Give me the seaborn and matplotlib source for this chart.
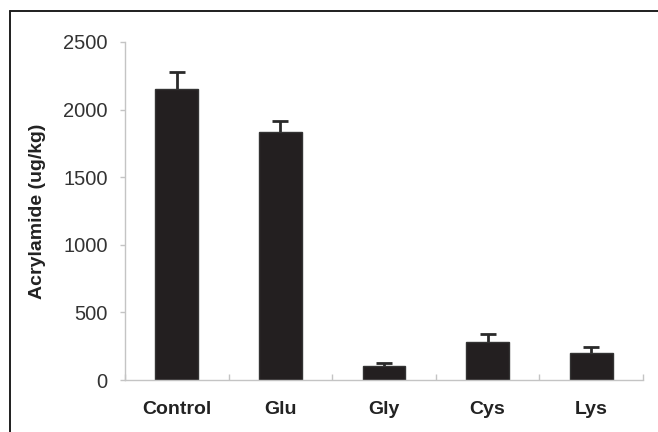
import matplotlib
matplotlib.use("Agg")
import matplotlib.pyplot as plt
from matplotlib.lines import Line2D
import seaborn as sns
import pandas as pd
import numpy as np

# Acrylamide content per treatment (mean and upper error)
categories = ["Control", "Glu", "Gly", "Cys", "Lys"]
acrylamide = [2152, 1837, 106, 279, 202]
errors = [128, 80, 22, 59, 45]
y_ticks = [0, 500, 1000, 1500, 2000, 2500]

sns.set_theme(style="white")
plt.rcParams["font.family"] = ["Liberation Sans", "DejaVu Sans"]

df = pd.DataFrame({"group": categories, "value": acrylamide})

W, H = 658, 432
fig = plt.figure(figsize=(W / 100, H / 100), dpi=100)
fig.patch.set_facecolor("white")
ax = fig.add_axes([125 / W, 1 - 380 / H, (643 - 125) / W, (380 - 42) / H])

sns.barplot(data=df, x="group", y="value", ax=ax, color="#231f20",
            width=0.415, edgecolor="#333333", linewidth=1.0,
            saturation=1, errorbar=None, zorder=2)

# upper-only error bars: stem from bar top plus a cap at the end
x = np.arange(len(categories))
vals = np.asarray(acrylamide, dtype=float)
tops = vals + np.asarray(errors, dtype=float)
cap_half = 0.078
ax.vlines(x, vals, tops, color="#2a2a2a", linewidth=2.0, zorder=1)
ax.hlines(tops, x - cap_half, x + cap_half, color="#2a2a2a",
          linewidth=2.0, zorder=1)

ax.set_xlim(-0.5, len(categories) - 0.5)
ax.set_ylim(0, 2500)
ax.set_yticks(y_ticks)
ax.set_yticklabels([str(t) for t in y_ticks])

# spines: only light gray left/bottom
for side in ["top", "right"]:
    ax.spines[side].set_visible(False)
for side in ["left", "bottom"]:
    ax.spines[side].set_color("#c4c4c4")
    ax.spines[side].set_linewidth(1.0)
    ax.spines[side].set_zorder(3)

ax.tick_params(axis="y", which="major", direction="out", length=3.5,
               width=1.0, color="#c4c4c4", pad=9, labelsize=14.5,
               labelcolor="#333333", left=True)
ax.tick_params(axis="x", which="major", length=0, pad=15, labelsize=14,
               labelcolor="#222222")
ax.set_xticks(np.arange(-0.5, len(categories)), minor=True)
ax.tick_params(axis="x", which="minor", direction="in", length=4.5,
               width=1.0, color="#c4c4c4", bottom=True)
for lbl in ax.get_xticklabels():
    lbl.set_fontweight("bold")

ax.set_xlabel("")
ax.set_ylabel("Acrylamide (ug/kg)", fontsize=14, fontweight="bold",
              color="#222222", labelpad=12)

# frame lines along the left and top edges of the figure
fx = 9.5 / W
fy = 1 - 10.5 / H
fig.add_artist(Line2D([fx, fx], [0, fy], transform=fig.transFigure,
                      color="#1e1e1e", linewidth=1.4))
fig.add_artist(Line2D([fx, 1], [fy, fy], transform=fig.transFigure,
                      color="#1e1e1e", linewidth=1.4))

fig.savefig("out.png", dpi=100, facecolor="white")
